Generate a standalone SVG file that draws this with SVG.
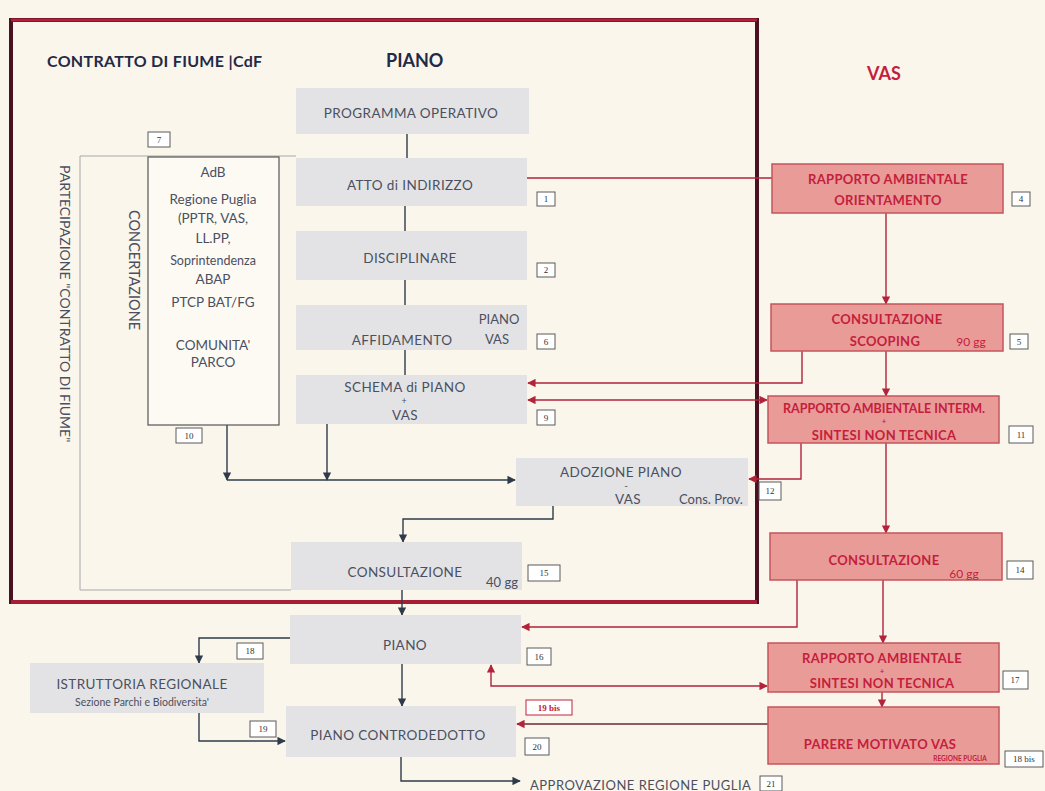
<svg xmlns="http://www.w3.org/2000/svg" width="1045" height="791" viewBox="0 0 1045 791">
<defs>
<style>
.bg{fill:#fbf6ec}
.pbox{fill:#e3e3e5}
.vbox{fill:#e99b98;stroke:#c4555c;stroke-width:1.5}
.pt{font-family:Lato,"Liberation Sans",sans-serif;font-size:13.5px;fill:#4a5060;text-anchor:middle;letter-spacing:0.4px}
.ps{font-family:Lato,"Liberation Sans",sans-serif;font-size:13px;fill:#4a5060;text-anchor:middle}
.vt{font-family:Lato,"Liberation Sans",sans-serif;font-size:13px;font-weight:bold;fill:#c4203c;text-anchor:middle;letter-spacing:0.3px}
.vs{font-family:Lato,"Liberation Sans",sans-serif;font-size:12px;fill:#c4203c;text-anchor:middle}
.vp{font-family:Lato,"Liberation Sans",sans-serif;font-size:8px;font-weight:bold;fill:#c4203c;text-anchor:middle}
.ct{font-family:Lato,"Liberation Sans",sans-serif;font-size:13.5px;fill:#4a5060;text-anchor:middle}
.lb{fill:#ffffff;stroke:#5a5a5a;stroke-width:1}
.lt{font-family:"Liberation Serif",serif;font-size:9px;fill:#333;text-anchor:middle}
.dk{fill:none;stroke:#2f3b4a;stroke-width:1.4}
.rd{fill:none;stroke:#b3233a;stroke-width:1.4}
.title{font-family:Lato,"Liberation Sans",sans-serif;font-weight:bold;fill:#1f2b48}
.vert{font-family:Lato,"Liberation Sans",sans-serif;font-size:14px;fill:#4a5060}
</style>
<marker id="ad" viewBox="0 0 10 10" refX="9" refY="5" markerWidth="6" markerHeight="6" orient="auto-start-reverse"><path d="M0,0 L10,5 L0,10 z" fill="#2f3b4a"/></marker>
<marker id="ar" viewBox="0 0 10 10" refX="9" refY="5" markerWidth="6" markerHeight="6" orient="auto-start-reverse"><path d="M0,0 L10,5 L0,10 z" fill="#b3233a"/></marker>
</defs>
<rect class="bg" x="0" y="0" width="1045" height="791"/>

<!-- frame -->
<g id="frame">
<rect x="11" y="20" width="746" height="582" fill="none" stroke="#4a1220" stroke-width="4"/>
<line x1="11" y1="20" x2="757" y2="20" stroke="#b51f3a" stroke-width="3"/>
<line x1="11" y1="602" x2="757" y2="602" stroke="#a81d36" stroke-width="4"/>
<polyline points="296,156 80,156 80,590 291,590" fill="none" stroke="#a8a8a8" stroke-width="1"/>
</g>

<!-- titles -->
<g id="titles">
<text class="title" x="47" y="67" style="font-size:16px;letter-spacing:0.3px">CONTRATTO DI FIUME |CdF</text>
<text class="title" x="386" y="67" style="font-size:18px">PIANO</text>
<text x="867" y="80" style="font-family:Lato,'Liberation Sans',sans-serif;font-size:18px;font-weight:bold;fill:#c4203c">VAS</text>
<text class="vert" transform="translate(60,165) rotate(90)">PARTECIPAZIONE "CONTRATTO DI FIUME"</text>
<text class="vert" transform="translate(129,210) rotate(90)" style="font-size:14.5px">CONCERTAZIONE</text>
</g>

<!-- connectors -->
<g id="connectors">
<line class="dk" x1="407" y1="134" x2="407" y2="158"/>
<line class="dk" x1="405" y1="206" x2="405" y2="231"/>
<line class="dk" x1="405" y1="280" x2="405" y2="305"/>
<line class="dk" x1="405" y1="350" x2="405" y2="375"/>
<polyline class="dk" points="227,425 227,480" marker-end="url(#ad)"/>
<polyline class="dk" points="327,424 327,480" marker-end="url(#ad)"/>
<polyline class="dk" points="227,480 515,480" marker-end="url(#ad)"/>
<polyline class="dk" points="553,506 553,519 403,519 403,542" marker-end="url(#ad)"/>
<polyline class="dk" points="402,590 402,615" marker-end="url(#ad)"/>
<polyline class="dk" points="290,638 199,638 199,663" marker-end="url(#ad)"/>
<polyline class="dk" points="199,713 199,741 285,741" marker-end="url(#ad)"/>
<polyline class="dk" points="402,664 402,706" marker-end="url(#ad)"/>
<polyline class="dk" points="401,757 401,781 520,781" marker-end="url(#ad)"/>

<line class="rd" x1="527" y1="178" x2="772" y2="178"/>
<polyline class="rd" points="886,213 886,304" marker-end="url(#ar)"/>
<polyline class="rd" points="802,351 802,383 528,383" marker-end="url(#ar)"/>
<polyline class="rd" points="886,351 886,396" marker-end="url(#ar)"/>
<polyline class="rd" points="528,400 767,400" marker-start="url(#ar)" marker-end="url(#ar)"/>
<polyline class="rd" points="801,443 801,479 749,479" marker-end="url(#ar)"/>
<polyline class="rd" points="886,443 886,533" marker-end="url(#ar)"/>
<polyline class="rd" points="797,580 797,627 522,627" marker-end="url(#ar)"/>
<polyline class="rd" points="883,580 883,643" marker-end="url(#ar)"/>
<polyline class="rd" points="767,686 491,686 491,665" marker-start="url(#ar)" marker-end="url(#ar)"/>
<polyline class="rd" points="882,692 882,707" marker-end="url(#ar)"/>
<polyline class="rd" points="768,724 517,724" marker-end="url(#ar)" style="stroke:#6a2a30"/>
</g>

<!-- concertazione box -->
<g id="concertazione">
<rect x="148" y="157" width="131" height="268" fill="#fdfaf4" stroke="#555" stroke-width="1.2"/>
<text class="ct" x="213" y="177">AdB</text>
<text class="ct" x="213" y="204">Regione Puglia</text>
<text class="ct" x="213" y="223">(PPTR, VAS,</text>
<text class="ct" x="213" y="243">LL.PP,</text>
<text class="ct" x="213" y="265" style="font-size:12.5px">Soprintendenza</text>
<text class="ct" x="213" y="284">ABAP</text>
<text class="ct" x="213" y="307">PTCP BAT/FG</text>
<text class="ct" x="213" y="350">COMUNITA'</text>
<text class="ct" x="213" y="367">PARCO</text>
<rect class="lb" x="148" y="132" width="22" height="15"/><text class="lt" x="159" y="143">7</text>
<rect class="lb" x="176" y="428" width="26" height="15"/><text class="lt" x="189" y="439">10</text>
</g>

<!-- PIANO nodes -->
<g id="programma"><rect class="pbox" x="296" y="88" width="233" height="46"/><text class="pt" x="411" y="118">PROGRAMMA OPERATIVO</text></g>
<g id="atto"><rect class="pbox" x="296" y="158" width="231" height="48"/><text class="pt" x="410" y="190">ATTO di INDIRIZZO</text>
<rect class="lb" x="537" y="192" width="18" height="14"/><text class="lt" x="546" y="202">1</text></g>
<g id="disciplinare"><rect class="pbox" x="296" y="231" width="231" height="49"/><text class="pt" x="410" y="263">DISCIPLINARE</text>
<rect class="lb" x="537" y="263" width="18" height="14"/><text class="lt" x="546" y="273">2</text></g>
<g id="affidamento"><rect class="pbox" x="296" y="305" width="231" height="45"/><text class="pt" x="402" y="345">AFFIDAMENTO</text>
<text class="ps" x="499" y="324">PIANO</text><text class="ps" x="497" y="344">VAS</text>
<rect class="lb" x="537" y="334" width="18" height="15"/><text class="lt" x="546" y="345">6</text></g>
<g id="schema"><rect class="pbox" x="296" y="375" width="231" height="49"/><text class="pt" x="405" y="392">SCHEMA di PIANO</text>
<text class="ps" x="404" y="404" style="font-size:9px">+</text><text class="pt" x="405" y="420">VAS</text>
<rect class="lb" x="537" y="410" width="18" height="15"/><text class="lt" x="546" y="421">9</text></g>
<g id="adozione"><rect class="pbox" x="516" y="458" width="232" height="48"/><text class="pt" x="621" y="477">ADOZIONE PIANO</text>
<text class="ps" x="626" y="489" style="font-size:10px">-</text><text class="pt" x="628" y="504">VAS</text>
<text class="ps" x="711" y="504">Cons. Prov.</text>
<rect class="lb" x="759" y="482" width="22" height="18"/><text class="lt" x="770" y="494">12</text></g>
<g id="consultazione40"><rect class="pbox" x="291" y="542" width="231" height="48"/><text class="pt" x="405" y="577">CONSULTAZIONE</text>
<text class="ps" x="502" y="587">40 gg</text>
<rect class="lb" x="528" y="565" width="32" height="16"/><text class="lt" x="544" y="576">15</text></g>
<g id="piano"><rect class="pbox" x="290" y="615" width="231" height="49"/><text class="pt" x="405" y="650">PIANO</text>
<rect class="lb" x="527" y="648" width="24" height="17"/><text class="lt" x="539" y="660">16</text></g>
<g id="istruttoria"><rect class="pbox" x="30" y="663" width="234" height="50"/><text class="pt" x="142" y="689">ISTRUTTORIA REGIONALE</text>
<text class="ps" x="142" y="706" style="font-size:10.5px">Sezione Parchi e Biodiversita'</text>
<rect class="lb" x="237" y="643" width="26" height="16"/><text class="lt" x="250" y="654">18</text>
<rect class="lb" x="250" y="721" width="26" height="16"/><text class="lt" x="263" y="732">19</text></g>
<g id="controdedotto"><rect class="pbox" x="286" y="706" width="230" height="51"/><text class="pt" x="398" y="740">PIANO  CONTRODEDOTTO</text>
<rect class="lb" x="525" y="738" width="24" height="17"/><text class="lt" x="537" y="750">20</text>
<rect x="526" y="700" width="46" height="15" fill="#fff" stroke="#c4203c" stroke-width="1"/><text class="lt" x="549" y="711" style="fill:#c4203c;font-weight:bold">19 bis</text></g>
<g id="approvazione"><text x="530" y="790" style="font-family:Lato,'Liberation Sans',sans-serif;font-size:13px;fill:#4a5060;letter-spacing:0.5px">APPROVAZIONE REGIONE PUGLIA</text>
<rect class="lb" x="760" y="776" width="22" height="15"/><text class="lt" x="771" y="787">21</text></g>

<!-- VAS nodes -->
<g id="orientamento"><rect class="vbox" x="772" y="164" width="231" height="49"/><text class="vt" x="888" y="184">RAPPORTO AMBIENTALE</text>
<text class="vt" x="888" y="205">ORIENTAMENTO</text>
<rect class="lb" x="1012" y="192" width="18" height="14"/><text class="lt" x="1021" y="202">4</text></g>
<g id="scoping"><rect class="vbox" x="771" y="304" width="232" height="47"/><text class="vt" x="887" y="324">CONSULTAZIONE</text>
<text class="vt" x="885" y="346">SCOOPING</text><text class="vs" x="971" y="346">90 gg</text>
<rect class="lb" x="1010" y="334" width="18" height="15"/><text class="lt" x="1019" y="345">5</text></g>
<g id="interm"><rect class="vbox" x="768" y="396" width="231" height="47"/><text class="vt" x="884" y="413" style="font-size:12.5px;letter-spacing:0">RAPPORTO AMBIENTALE INTERM.</text>
<text class="vp" x="884" y="424">+</text><text class="vt" x="884" y="440">SINTESI NON TECNICA</text>
<rect class="lb" x="1009" y="426" width="24" height="17"/><text class="lt" x="1021" y="438">11</text></g>
<g id="consultazione60"><rect class="vbox" x="770" y="533" width="232" height="47"/><text class="vt" x="884" y="565">CONSULTAZIONE</text>
<text class="vs" x="964" y="578">60 gg</text>
<rect class="lb" x="1007" y="561" width="26" height="18"/><text class="lt" x="1020" y="573">14</text></g>
<g id="rapporto"><rect class="vbox" x="768" y="643" width="231" height="49"/><text class="vt" x="882" y="663">RAPPORTO AMBIENTALE</text>
<text class="vp" x="882" y="674">+</text><text class="vt" x="882" y="688">SINTESI NON TECNICA</text>
<rect class="lb" x="1003" y="671" width="25" height="18"/><text class="lt" x="1015" y="683">17</text></g>
<g id="parere"><rect class="vbox" x="768" y="707" width="231" height="57"/><text class="vt" x="880" y="749">PARERE MOTIVATO VAS</text>
<text class="vp" x="960" y="761" style="font-size:6.5px">REGIONE PUGLIA</text>
<rect class="lb" x="1005" y="751" width="38" height="16"/><text class="lt" x="1024" y="762">18 bis</text></g>
</svg>
